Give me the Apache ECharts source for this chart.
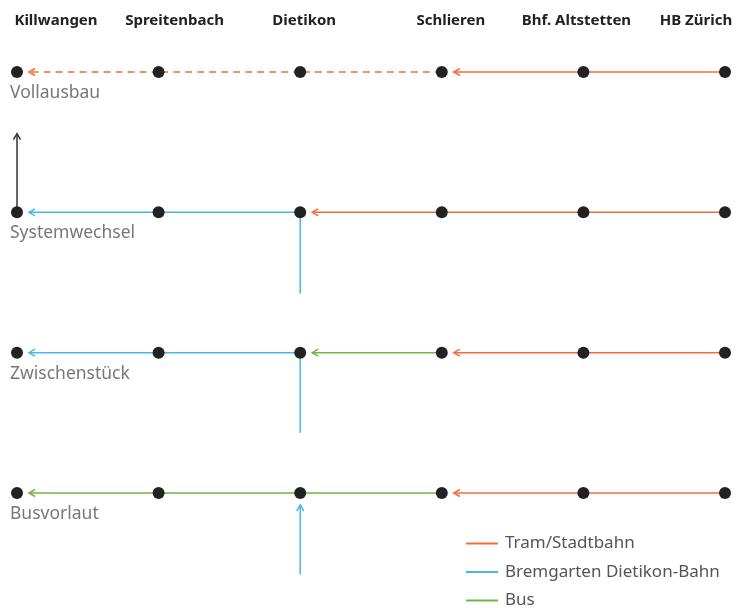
<!DOCTYPE html>
<html>
<head>
<meta charset="utf-8">
<script src="https://cdn.jsdelivr.net/npm/echarts@6/dist/echarts.min.js"></script>
<style>
  html, body { margin: 0; padding: 0; background: #fff; }
  #chart { width: 738px; height: 608px; }
</style>
</head>
<body>
<div id="chart"></div>
<script>
// stations along the line, west -> east
const stations = ['Killwangen', 'Spreitenbach', 'Dietikon', 'Schlieren', 'Bhf. Altstetten', 'HB Zürich']
// stages, top -> bottom
const stages = ['Vollausbau', 'Systemwechsel', 'Zwischenstück', 'Busvorlaut']
const modes = ['Tram/Stadtbahn', 'Bremgarten Dietikon-Bahn', 'Bus']

// segments: [fromStation, toStation, stage, dashed, arrowAtTo]
const tramSegments = [
  [1, 0, 0, 1, 1], [2, 1, 0, 1, 0], [3, 2, 0, 1, 0],
  [4, 3, 0, 0, 1], [5, 4, 0, 0, 0],
  [3, 2, 1, 0, 1], [4, 3, 1, 0, 0], [5, 4, 1, 0, 0],
  [4, 3, 2, 0, 1], [5, 4, 2, 0, 0],
  [4, 3, 3, 0, 1], [5, 4, 3, 0, 0]
]
const bdbSegments = [
  [1, 0, 1, 0, 1], [2, 1, 1, 0, 0],
  [1, 0, 2, 0, 1], [2, 1, 2, 0, 0]
]
const busSegments = [
  [3, 2, 2, 0, 1],
  [1, 0, 3, 0, 1], [2, 1, 3, 0, 0], [3, 2, 3, 0, 0]
]
// vertical branches at a station: [station, fromStage, toStage, arrowAtTo]
const bdbBranches = [
  [2, 1.58, 1, 0], [2, 2.57, 2, 0], [2, 3.58, 3, 1]
]
const stageArrow = [[0, 1, 0.44, 1]]

const colors = { tram: '#f26d3d', bdb: '#4cb6e6', bus: '#6db544', dark: '#333', dot: '#222' }
const headerShift = [39, 16, 4, 9, -7, -29]

const stationPoints = []
stages.forEach((s, r) => stations.forEach((st, i) => stationPoints.push([i, r])))

const chart = echarts.init(document.getElementById('chart'))

function arrowHead (tip, from, color) {
  const dx = from[0] - tip[0], dy = from[1] - tip[1]
  const len = Math.sqrt(dx * dx + dy * dy) || 1
  const ux = dx / len, uy = dy / len
  const L = 6, W = 3.5
  return {
    type: 'polyline',
    shape: { points: [
      [tip[0] + ux * L - uy * W, tip[1] + uy * L + ux * W],
      tip,
      [tip[0] + ux * L + uy * W, tip[1] + uy * L - ux * W]
    ] },
    style: { stroke: color, lineWidth: 1.5, fill: null }
  }
}

function segmentRenderer (color) {
  return (params, api) => {
    const a = api.coord([api.value(0), api.value(2)])
    const b = api.coord([api.value(1), api.value(2)])
    const dashed = api.value(3) === 1
    const arrow = api.value(4) === 1
    let end = b
    const children = []
    if (arrow) {
      const dir = a[0] > b[0] ? 1 : -1
      end = [b[0] + dir * 12, b[1]]
      children.push(arrowHead(end, a, color))
    }
    children.push({
      type: 'line',
      shape: { x1: a[0], y1: a[1], x2: end[0], y2: end[1] },
      style: { stroke: color, lineWidth: 1.5, lineDash: dashed ? [7, 5] : null }
    })
    return { type: 'group', children }
  }
}

function branchRenderer (color) {
  return (params, api) => {
    const a = api.coord([api.value(0), api.value(1)])
    const b = api.coord([api.value(0), api.value(2)])
    const arrow = api.value(3) === 1
    const toDot = Number.isInteger(api.value(2))
    let end = b
    const children = []
    if (arrow) {
      const dir = a[1] > b[1] ? 1 : -1
      end = toDot ? [b[0], b[1] + dir * 12] : b
      children.push(arrowHead(end, a, color))
    }
    children.push({
      type: 'line',
      shape: { x1: a[0], y1: a[1], x2: end[0], y2: end[1] },
      style: { stroke: color, lineWidth: 1.5 }
    })
    return { type: 'group', children }
  }
}

const rich = {}
headerShift.forEach((d, i) => {
  rich['h' + i] = {
    fontFamily: 'Noto Sans', fontWeight: 'bold', fontSize: 15, color: '#222',
    padding: d >= 0 ? [0, 0, 0, 2 * d] : [0, -2 * d, 0, 0]
  }
})

chart.setOption({
  backgroundColor: '#fff',
  animation: false,
  grid: { left: 17, right: 13, top: 72, bottom: 115 },
  xAxis: {
    type: 'value', min: 0, max: 5, interval: 1, position: 'top',
    axisLine: { show: false }, axisTick: { show: false }, splitLine: { show: false },
    axisLabel: {
      margin: 44,
      formatter: (v) => `{h${v}|${stations[v]}}`,
      rich
    }
  },
  yAxis: {
    type: 'value', min: 0, max: 3, inverse: true, show: false
  },
  legend: {
    orient: 'vertical', left: 466, top: 535, height: 120, itemGap: 11.5, padding: 0,
    itemWidth: 32, itemHeight: 2, icon: 'rect',
    textStyle: { fontFamily: 'Noto Sans', fontSize: 17, lineHeight: 16, color: '#555', padding: [0, 0, 0, 2] },
    data: modes
  },
  series: [
    {
      name: modes[0], type: 'custom', renderItem: segmentRenderer(colors.tram),
      itemStyle: { color: colors.tram }, data: tramSegments, z: 2
    },
    {
      name: modes[1], type: 'custom', renderItem: segmentRenderer(colors.bdb),
      itemStyle: { color: colors.bdb }, data: bdbSegments, z: 2
    },
    {
      name: modes[2], type: 'custom', renderItem: segmentRenderer(colors.bus),
      itemStyle: { color: colors.bus }, data: busSegments, z: 2
    },
    {
      name: 'branches', type: 'custom', renderItem: branchRenderer(colors.bdb),
      data: bdbBranches, z: 2
    },
    {
      name: 'stageArrow', type: 'custom', renderItem: branchRenderer(colors.dark),
      data: stageArrow, z: 2
    },
    {
      name: 'stations', type: 'scatter', symbol: 'circle', symbolSize: 12,
      itemStyle: { color: colors.dot, opacity: 1 }, data: stationPoints, z: 5
    },
    {
      name: 'stages', type: 'scatter', symbolSize: 0,
      data: stages.map((s, r) => [0, r, s]),
      label: {
        show: true, position: [-7, 12], formatter: (p) => p.data[2],
        fontFamily: 'Noto Sans', fontSize: 17.5, color: '#555'
      },
      z: 5
    }
  ]
})
</script>
</body>
</html>
